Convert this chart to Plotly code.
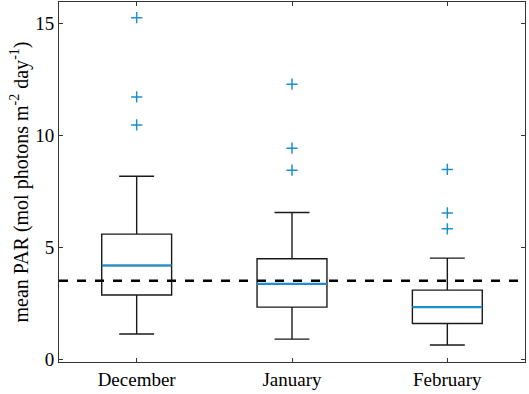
import plotly.graph_objects as go

months = ["December", "January", "February"]
positions = [1, 2, 3]
q1 = [2.86, 2.32, 1.59]
median = [4.18, 3.36, 2.32]
q3 = [5.58, 4.48, 3.08]
lower_whisker = [1.12, 0.89, 0.63]
upper_whisker = [8.17, 6.55, 4.51]
outliers = [[15.25, 11.71, 10.46], [12.28, 9.42, 8.44], [8.47, 6.53, 5.82]]
reference_level = 3.5

BLUE = "#1b8fd0"
BOX_WIDTH = 0.45
FONT = "Liberation Serif"

fig = go.Figure()

for i, m in enumerate(months):
    fig.add_trace(go.Box(
        x=[positions[i]], q1=[q1[i]], median=[median[i]], q3=[q3[i]],
        lowerfence=[lower_whisker[i]], upperfence=[upper_whisker[i]],
        width=BOX_WIDTH, whiskerwidth=0.5, boxpoints=False,
        line=dict(color="#1a1a1a", width=1.4), fillcolor="rgba(0,0,0,0)",
        showlegend=False, hoverinfo="skip",
    ))
    fig.add_trace(go.Scatter(
        x=[positions[i] - BOX_WIDTH / 2, positions[i] + BOX_WIDTH / 2],
        y=[median[i], median[i]], mode="lines",
        line=dict(color=BLUE, width=2.2), showlegend=False, hoverinfo="skip",
    ))
    fig.add_trace(go.Scatter(
        x=[positions[i]] * len(outliers[i]), y=outliers[i], mode="markers",
        marker=dict(symbol="cross-thin", size=8, line=dict(color=BLUE, width=1.5)),
        showlegend=False, hoverinfo="skip",
    ))

fig.add_hline(y=reference_level, line=dict(color="black", width=2.6, dash="dash"))

axis_common = dict(
    showline=True, linecolor="#333333", linewidth=1, mirror="ticks",
    ticks="inside", ticklen=4, tickcolor="#333333", showgrid=False, zeroline=False,
    tickfont=dict(family=FONT, size=19, color="black"), automargin=False,
)

fig.update_xaxes(range=[0.5, 3.5], tickvals=positions, ticktext=months, **axis_common)
fig.update_yaxes(range=[-0.13, 15.95], tickvals=[0, 5, 10, 15],
                 title=dict(text="mean PAR (mol photons m<sup>-2</sup> day<sup>-1</sup>)",
                            font=dict(family=FONT, size=20, color="black"), standoff=1),
                 **axis_common)

fig.update_layout(
    width=529, height=394,
    margin=dict(l=59, r=4, t=2, b=32),
    paper_bgcolor="white", plot_bgcolor="white",
    font=dict(family=FONT),
)

fig.write_html("out.html", config={"displayModeBar": False},
               post_script="document.body.style.margin='0';")
